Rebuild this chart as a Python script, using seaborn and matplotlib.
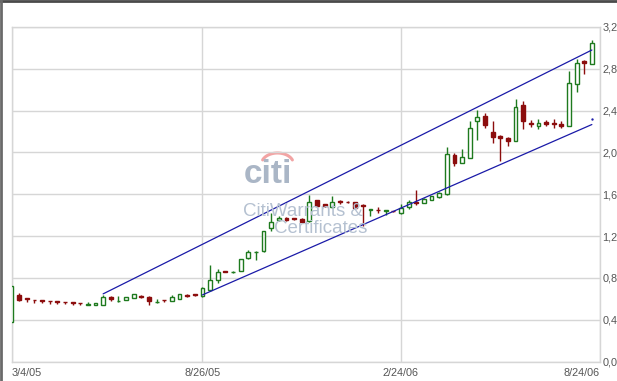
import numpy as np
import pandas as pd
import matplotlib
matplotlib.use("Agg")
import matplotlib.pyplot as plt
import seaborn as sns
from matplotlib.lines import Line2D

# ---- data (weekly candles, 3/4/05 .. 8/18/06) ----
dates = pd.date_range("2005-03-04", periods=77, freq="7D")
opens = [0.38, 0.635, 0.605, 0.59, 0.584, 0.582, 0.578, 0.572, 0.567, 0.562,
         0.543, 0.54, 0.542, 0.615, 0.574, 0.59, 0.607, 0.63, 0.62, 0.565,
         0.589, 0.58, 0.60, 0.637, 0.643, 0.625, 0.686, 0.775, 0.863, 0.852,
         0.87, 0.99, 1.045, 1.053, 1.278, 1.35, 1.37, 1.37, 1.365, 1.34,
         1.542, 1.505, 1.475, 1.532, 1.528, 1.522, 1.50, 1.447, 1.452, 1.444,
         1.44, 1.421, 1.478, 1.53, 1.518, 1.548, 1.572, 1.603, 1.972, 1.90,
         1.948, 2.30, 2.345, 2.20, 2.16, 2.14, 2.11, 2.45, 2.284, 2.252,
         2.29, 2.282, 2.268, 2.252, 2.651, 2.875, 2.85]
highs = [0.72, 0.655, 0.606, 0.59, 0.585, 0.583, 0.579, 0.573, 0.568, 0.563,
         0.567, 0.557, 0.64, 0.628, 0.628, 0.617, 0.65, 0.638, 0.628, 0.60,
         0.59, 0.638, 0.645, 0.647, 0.644, 0.71, 0.925, 0.885, 0.865, 0.87,
         0.985, 1.062, 1.055, 1.25, 1.42, 1.39, 1.385, 1.375, 1.37, 1.596,
         1.545, 1.51, 1.587, 1.542, 1.532, 1.525, 1.51, 1.46, 1.475, 1.453,
         1.442, 1.51, 1.548, 1.637, 1.56, 1.585, 1.62, 2.05, 1.99, 2.03,
         2.30, 2.41, 2.38, 2.30, 2.17, 2.15, 2.507, 2.49, 2.315, 2.32,
         2.315, 2.32, 2.30, 2.778, 2.897, 2.88, 3.076]
lows = [0.38, 0.575, 0.565, 0.56, 0.558, 0.55, 0.55, 0.55, 0.542, 0.537,
        0.542, 0.539, 0.54, 0.583, 0.573, 0.589, 0.605, 0.606, 0.542, 0.563,
        0.573, 0.578, 0.598, 0.621, 0.628, 0.62, 0.67, 0.755, 0.855, 0.851,
        0.868, 0.98, 0.973, 1.05, 1.245, 1.34, 1.345, 1.355, 1.33, 1.335,
        1.475, 1.478, 1.47, 1.51, 1.515, 1.465, 1.295, 1.395, 1.42, 1.405,
        1.43, 1.415, 1.46, 1.50, 1.515, 1.545, 1.565, 1.596, 1.875, 1.895,
        1.945, 2.12, 2.235, 2.09, 1.915, 2.06, 2.105, 2.22, 2.245, 2.226,
        2.25, 2.235, 2.23, 2.25, 2.577, 2.754, 2.845]
closes = [0.72, 0.59, 0.598, 0.585, 0.579, 0.577, 0.573, 0.567, 0.562, 0.557,
          0.549, 0.556, 0.615, 0.597, 0.582, 0.615, 0.642, 0.617, 0.574, 0.572,
          0.585, 0.62, 0.643, 0.631, 0.638, 0.70, 0.78, 0.86, 0.858, 0.858,
          0.98, 1.043, 1.052, 1.245, 1.33, 1.372, 1.357, 1.365, 1.335, 1.53,
          1.49, 1.49, 1.53, 1.525, 1.522, 1.47, 1.49, 1.458, 1.446, 1.452,
          1.435, 1.469, 1.522, 1.515, 1.555, 1.58, 1.612, 1.987, 1.90, 1.954,
          2.235, 2.337, 2.26, 2.146, 2.14, 2.11, 2.43, 2.30, 2.27, 2.277,
          2.272, 2.272, 2.255, 2.667, 2.859, 2.86, 3.05]

upper_x = [12, 76]
upper_y = [0.647, 2.98]
lower_x = [25, 76]
lower_y = [0.637, 2.267]
marker_x = [76]
marker_y = [2.322]

xtick_pos = [0, 25, 51, 77]
xtick_labels = ["3/4/05", "8/26/05", "2/24/06", "8/24/06"]
ytick_vals = [0.0, 0.4, 0.8, 1.2, 1.6, 2.0, 2.4, 2.8, 3.2]
ytick_labels = ["0,0", "0,4", "0,8", "1,2", "1,6", "2,0", "2,4", "2,8", "3,2"]

GREEN = "#1e7a1e"
RED = "#8c0d0d"
BLUE = "#1a1aa8"
GRID = "#d6d6d6"
TXT = "#555555"

sns.set_style("white")
plt.rcParams["font.family"] = ["Liberation Sans", "DejaVu Sans"]

W, H = 617, 381
fig = plt.figure(figsize=(W / 100, H / 100), dpi=100)
L, R, T, B = 11.5, 599.5, 27.0, 361.5
ax = fig.add_axes([L / W, 1 - B / H, (R - L) / W, (B - T) / H])

# watermark
fig.text(267.5 / W, 1 - 175 / H, "citi", fontsize=24, fontweight="bold",
         color="#aab6c6", ha="center", va="center", zorder=0)
t = np.linspace(0.12 * np.pi, 0.88 * np.pi, 40)
fig.add_artist(Line2D((277.5 + 16 * np.cos(t)) / W, 1 - (164 - 11 * np.sin(t)) / H,
                      color="#f2a4a4", lw=2.2, zorder=0))
fig.text(243 / W, 1 - 211 / H, "CitiWarrants &", fontsize=13.5, color="#b5c1d1",
         ha="left", va="center", zorder=0)
fig.text(367 / W, 1 - 228 / H, "Certificates", fontsize=13.5, color="#b5c1d1",
         ha="right", va="center", zorder=0)
ax.patch.set_alpha(0)

o = np.array(opens)
c = np.array(closes)
hi = np.array(highs)
lo = np.array(lows)
x = np.arange(len(o))
up = c >= o
cols = np.where(up, GREEN, RED)

ax.vlines(x, lo, hi, colors=cols, lw=1.0, zorder=3)
bottoms = np.minimum(o, c)
heights = np.abs(c - o)
ax.bar(x[up], heights[up], bottom=bottoms[up], width=0.5, facecolor="white",
       edgecolor=GREEN, linewidth=1.0, zorder=4)
ax.bar(x[~up], heights[~up], bottom=bottoms[~up], width=0.5, facecolor=RED,
       edgecolor=RED, linewidth=1.0, zorder=4)

sns.lineplot(x=upper_x, y=upper_y, color=BLUE, lw=0.9, ax=ax, zorder=5)
sns.lineplot(x=lower_x, y=lower_y, color=BLUE, lw=0.9, ax=ax, zorder=5)
ax.plot(marker_x, marker_y, "o", color=BLUE, ms=0.7, zorder=5)

ax.set_xlim(0, 77)
ax.set_ylim(0, 3.2)
ax.set_yticks(ytick_vals)
ax.set_yticklabels(ytick_labels)
ax.yaxis.tick_right()
ax.set_xticks(xtick_pos)
ax.set_xticklabels(xtick_labels)
lbls = ax.get_xticklabels()
lbls[0].set_ha("left")
lbls[-1].set_ha("right")
ax.tick_params(axis="both", length=0, labelsize=7.8, labelcolor=TXT)
ax.tick_params(axis="y", pad=2)
ax.tick_params(axis="x", pad=5)
ax.grid(True, color=GRID, lw=1.0, zorder=0)
ax.set_axisbelow(True)
for s in ax.spines.values():
    s.set_color(GRID)
    s.set_linewidth(1.0)
ax.set_xlabel("")
ax.set_ylabel("")

# window border (top and left)
fig.add_artist(Line2D([0, 1], [1 - 1.2 / H, 1 - 1.2 / H], color="#4a4a4a", lw=2.0))
fig.add_artist(Line2D([1.2 / W, 1.2 / W], [0, 1], color="#6a6a6a", lw=2.0))

fig.savefig("out.png", dpi=100)
